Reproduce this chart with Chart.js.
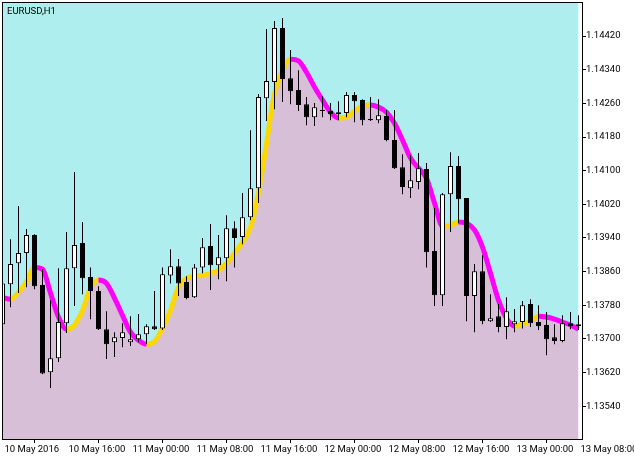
<!DOCTYPE html>
<html>
<head>
<meta charset="utf-8">
<script src="https://cdn.jsdelivr.net/npm/chart.js@4/dist/chart.umd.min.js"></script>
<style>
  body { margin: 0; background: #fff; }
  canvas { display: block; }
</style>
</head>
<body>
<canvas id="chart" width="634" height="459"></canvas>
<script>
// EURUSD H1, 10 May 08:00 .. 13 May 08:00 (one bar per hour)
const opens = [
  1.13735, 1.13830, 1.13880, 1.13904, 1.13947, 1.13828, 1.13621, 1.13654, 1.13737, 1.13868,
  1.13928, 1.13847, 1.13814, 1.13723, 1.13692, 1.13702, 1.13692, 1.13699, 1.13711, 1.13730,
  1.13725, 1.13851, 1.13873, 1.13835, 1.13799, 1.13870, 1.13921, 1.13875, 1.13892, 1.13963,
  1.13942, 1.13989, 1.14058, 1.14272, 1.14311, 1.14439, 1.14320, 1.14292, 1.14258, 1.14227,
  1.14244, 1.14242, 1.14239, 1.14237, 1.14280, 1.14268, 1.14223, 1.14220, 1.14230, 1.14173,
  1.14108, 1.14058, 1.14073, 1.14104, 1.13909, 1.13804, 1.14044, 1.14111, 1.14035, 1.13802,
  1.13861, 1.13742, 1.13754, 1.13728, 1.13735, 1.13740, 1.13783, 1.13740, 1.13733, 1.13704,
  1.13695, 1.13737, 1.13730
];
const highs = [
  1.13835, 1.13937, 1.14016, 1.13961, 1.13949, 1.13866, 1.13792, 1.13868, 1.13954, 1.14097,
  1.13978, 1.13870, 1.13825, 1.13766, 1.13716, 1.13737, 1.13754, 1.13759, 1.13735, 1.13814,
  1.13870, 1.13913, 1.13890, 1.13849, 1.13878, 1.13940, 1.13973, 1.13947, 1.13994, 1.13980,
  1.14047, 1.14196, 1.14282, 1.14437, 1.14456, 1.14463, 1.14387, 1.14339, 1.14275, 1.14261,
  1.14277, 1.14261, 1.14265, 1.14287, 1.14287, 1.14270, 1.14275, 1.14270, 1.14244, 1.14244,
  1.14139, 1.14137, 1.14142, 1.14118, 1.14011, 1.14047, 1.14144, 1.14135, 1.14035, 1.13878,
  1.13899, 1.13806, 1.13783, 1.13799, 1.13771, 1.13790, 1.13794, 1.13780, 1.13764, 1.13735,
  1.13756, 1.13764, 1.13756
];
const lows = [
  1.13730, 1.13775, 1.13809, 1.13823, 1.13818, 1.13616, 1.13583, 1.13645, 1.13714, 1.13778,
  1.13806, 1.13747, 1.13721, 1.13652, 1.13657, 1.13680, 1.13683, 1.13692, 1.13687, 1.13721,
  1.13721, 1.13832, 1.13802, 1.13794, 1.13797, 1.13856, 1.13816, 1.13842, 1.13837, 1.13870,
  1.13925, 1.13982, 1.14023, 1.14218, 1.14246, 1.14263, 1.14258, 1.14242, 1.14208, 1.14206,
  1.14227, 1.14220, 1.14220, 1.14227, 1.14215, 1.14208, 1.14218, 1.14213, 1.14170, 1.14104,
  1.14044, 1.14035, 1.14056, 1.13870, 1.13778, 1.13778, 1.13954, 1.13975, 1.13742, 1.13716,
  1.13735, 1.13740, 1.13716, 1.13699, 1.13716, 1.13725, 1.13728, 1.13721, 1.13661, 1.13687,
  1.13692, 1.13723, 1.13721
];
const closes = [
  1.13832, 1.13878, 1.13904, 1.13947, 1.13825, 1.13618, 1.13654, 1.13740, 1.13868, 1.13923,
  1.13844, 1.13814, 1.13723, 1.13687, 1.13704, 1.13716, 1.13699, 1.13711, 1.13730, 1.13723,
  1.13854, 1.13873, 1.13832, 1.13797, 1.13870, 1.13918, 1.13875, 1.13894, 1.13963, 1.13940,
  1.13989, 1.14058, 1.14275, 1.14313, 1.14439, 1.14318, 1.14289, 1.14256, 1.14227, 1.14251,
  1.14242, 1.14234, 1.14234, 1.14280, 1.14265, 1.14220, 1.14220, 1.14232, 1.14173, 1.14106,
  1.14061, 1.14077, 1.14106, 1.13906, 1.13804, 1.14044, 1.14111, 1.14032, 1.13802, 1.13861,
  1.13742, 1.13749, 1.13728, 1.13766, 1.13742, 1.13780, 1.13737, 1.13730, 1.13699, 1.13695,
  1.13737, 1.13730, 1.13735
];
// smoothed moving average (yellow while rising, magenta while falling)
const maValues = [
  1.13799, 1.13794, 1.13811, 1.13835, 1.13870, 1.13866, 1.13809, 1.13752, 1.13723, 1.13733,
  1.13768, 1.13821, 1.13840, 1.13832, 1.13797, 1.13756, 1.13716, 1.13697, 1.13687, 1.13694,
  1.13725, 1.13768, 1.13823, 1.13844, 1.13849, 1.13851, 1.13856, 1.13863, 1.13880, 1.13904,
  1.13930, 1.13966, 1.14047, 1.14165, 1.14284, 1.14337, 1.14365, 1.14361, 1.14334, 1.14299,
  1.14268, 1.14239, 1.14225, 1.14227, 1.14242, 1.14254, 1.14256, 1.14251, 1.14239, 1.14213,
  1.14173, 1.14130, 1.14106, 1.14082, 1.14023, 1.13968, 1.13970, 1.13978, 1.13975, 1.13959,
  1.13918, 1.13856, 1.13792, 1.13749, 1.13730, 1.13735, 1.13742, 1.13754, 1.13752, 1.13747,
  1.13740, 1.13733, 1.13723
];
const timeLabels = ['10 May 2016', '10 May 16:00', '11 May 00:00', '11 May 08:00', '11 May 16:00',
  '12 May 00:00', '12 May 08:00', '12 May 16:00', '13 May 00:00', '13 May 08:00'];
const priceTicks = [1.13540, 1.13620, 1.13700, 1.13780, 1.13860, 1.13940,
  1.14020, 1.14100, 1.14180, 1.14260, 1.14340, 1.14420];

const labelFont = { family: 'Roboto', size: 9.5 };

const maPoints = maValues.map((v, i) => ({ x: i, y: v }));

// frame + symbol caption, drawn like the terminal does
const framePlugin = {
  id: 'frame',
  afterDraw(chart) {
    const { ctx, chartArea: a } = chart;
    ctx.save();
    ctx.strokeStyle = '#000';
    ctx.lineWidth = 1;
    ctx.strokeRect(a.left + 0.5, a.top + 0.5, a.right - a.left, a.bottom - a.top);
    ctx.fillStyle = '#000';
    ctx.font = '9.5px Roboto';
    ctx.textBaseline = 'alphabetic';
    ctx.fillText('EURUSD,H1', 7, 14);
    ctx.restore();
  }
};

new Chart(document.getElementById('chart'), {
  type: 'bar',
  data: {
    datasets: [
      {
        type: 'bar',
        label: 'body',
        data: opens.map((o, i) => ({ x: i, y: [o, closes[i]] })),
        backgroundColor: opens.map((o, i) => (closes[i] >= o ? '#ffffff' : '#000000')),
        borderColor: '#000000',
        borderWidth: 1,
        borderSkipped: false,
        inflateAmount: 0,
        barThickness: 5,
        minBarLength: 1,
        grouped: false,
        clip: 0,
        order: 0,
      },
      {
        type: 'bar',
        label: 'wick',
        data: highs.map((h, i) => ({ x: i, y: [lows[i], h] })),
        backgroundColor: '#000000',
        borderWidth: 0,
        inflateAmount: 0,
        barThickness: 1,
        grouped: false,
        clip: 0,
        order: 1,
      },
      {
        type: 'line',
        label: 'ma',
        data: maPoints,
        borderWidth: 5,
        pointRadius: 0,
        fill: false,
        cubicInterpolationMode: 'monotone',
        segment: {
          borderColor: (ctx) => (ctx.p1.parsed.y >= ctx.p0.parsed.y ? '#FFD700' : '#FF00FF'),
        },
        clip: 0,
        order: 2,
      },
      {
        type: 'line',
        label: 'below',
        data: maPoints,
        borderWidth: 0,
        pointRadius: 0,
        fill: 'start',
        backgroundColor: '#D8BFD8',
        cubicInterpolationMode: 'monotone',
        clip: 0,
        order: 3,
      },
      {
        type: 'line',
        label: 'above',
        data: maPoints,
        borderWidth: 0,
        pointRadius: 0,
        fill: 'end',
        backgroundColor: '#AFEEEE',
        cubicInterpolationMode: 'monotone',
        clip: 0,
        order: 4,
      },
    ],
  },
  options: {
    responsive: false,
    animation: false,
    layout: { padding: { left: 2, top: 2, right: 0, bottom: 0 } },
    plugins: {
      legend: { display: false },
      tooltip: { enabled: false },
    },
    scales: {
      x: {
        type: 'linear',
        offset: false,
        min: -0.0625,
        max: 72.4375,
        border: { display: false },
        grid: { display: true, drawOnChartArea: false, drawTicks: true, tickLength: 4, color: '#000' },
        afterBuildTicks: (scale) => {
          scale.ticks = timeLabels.map((_, i) => ({ value: i * 8 }));
        },
        afterFit: (scale) => {
          scale.height = 20;
          scale.paddingLeft = 0;
          scale.paddingRight = 0;
        },
        ticks: {
          autoSkip: false,
          maxRotation: 0,
          minRotation: 0,
          align: 'start',
          labelOffset: 2,
          padding: 1,
          color: '#000',
          font: labelFont,
          callback: (value) => timeLabels[Math.round(value / 8)],
        },
      },
      y: {
        position: 'right',
        min: 1.13462,
        max: 1.14501,
        border: { display: false },
        grid: { display: true, drawOnChartArea: false, drawTicks: true, tickLength: 4, color: '#000' },
        afterBuildTicks: (scale) => {
          scale.ticks = priceTicks.map((v) => ({ value: v }));
        },
        afterFit: (scale) => {
          scale.width = 52;
          scale.paddingTop = 0;
          scale.paddingBottom = 0;
        },
        ticks: {
          padding: 0,
          color: '#000',
          font: labelFont,
          callback: (value) => value.toFixed(5),
        },
      },
    },
  },
  plugins: [framePlugin],
});
</script>
</body>
</html>
